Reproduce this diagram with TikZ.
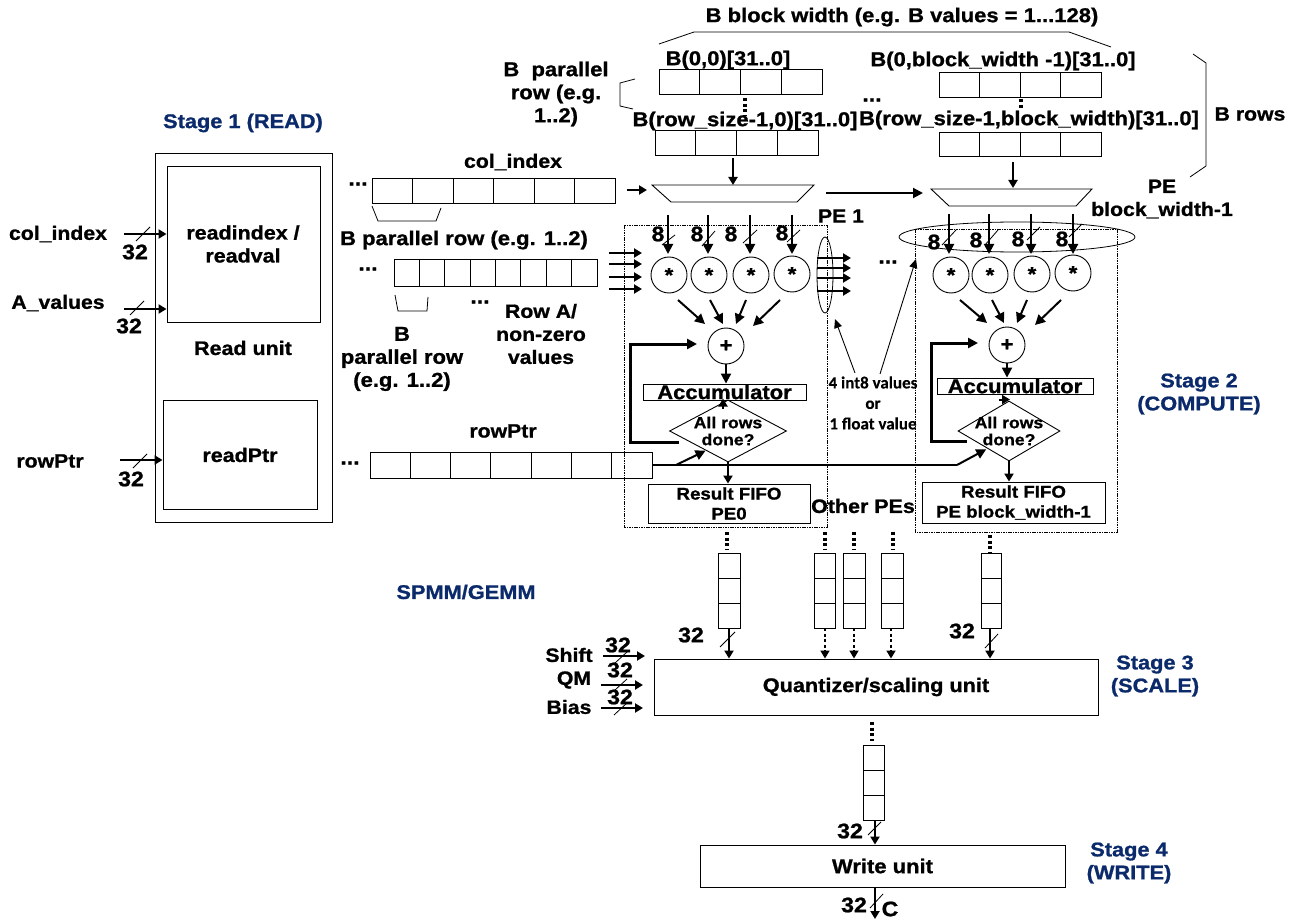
\documentclass[tikz,border=0pt]{standalone}
\usepackage{fontspec}
\setmainfont{Liberation Sans}[BoldFeatures={FakeBold=1,FakeStretch=1.1}]
\newfontfamily\calfam{Carlito}[BoldFeatures={FakeBold=0.2}]
\usetikzlibrary{arrows.meta,calc,shapes.geometric}
\definecolor{stagecol}{HTML}{0B2A6B}
\newcommand{\fz}[2]{\fontsize{#1}{#2}\selectfont\bfseries}
\tikzset{
  x=1pt,y=-1pt,
  thinln/.style={line width=0.8pt,draw=black},
  cellbox/.style={draw=black,line width=0.9pt,inner sep=0pt,fill=none},
  pebox/.style={draw=black,line width=0.8pt,dash pattern=on 1.6pt off 0.8pt},
  arr/.style={line width=2pt,-{Triangle[length=10pt,width=10pt]}},
  sarr/.style={line width=2pt,-{Triangle[length=8pt,width=9pt]}},
  thinarr/.style={line width=0.9pt,-{Triangle[length=9pt,width=8pt]}},
  fbarr/.style={line width=3pt,-{Triangle[length=10pt,width=10pt]}},
  dotsv/.style={line width=3.2pt,dash pattern=on 3pt off 2.6pt},
  dasharr/.style={line width=1.6pt,dash pattern=on 3pt off 2.5pt,-{Triangle[length=8pt,width=9pt]}},
  circ/.style={circle,draw=black,line width=0.9pt,minimum size=36pt,inner sep=0pt,font=\fz{20}{20}},
  tlab/.style={inner sep=0pt,align=center,font=\fz{19.5}{23}},
  stagelab/.style={inner sep=0pt,align=center,text=stagecol,font=\fz{19.8}{23}},
  siglab/.style={inner sep=0pt,align=center,font=\fz{19.3}{23}},
  siglong/.style={inner sep=0pt,align=center,font=\fz{20}{23}},
  numlab/.style={inner sep=0pt,font=\fz{21}{21}},
  dots/.style={inner sep=0pt,font=\fz{21}{21}},
  dmd/.style={diamond,draw=black,line width=0.9pt,aspect=1.89,inner sep=0pt,minimum width=117pt,minimum height=62pt},
  flow/.style={inner sep=0pt,align=center,font=\fz{16}{17}}
}
% rectangular box from corners: name x0 y0 x1 y1
\newcommand{\rbox}[6][]{\node[cellbox,#1,minimum width={(#4)-(#2)},minimum height={(#5)-(#3)}] (#6) at ({((#2)+(#4))/2},{((#3)+(#5))/2}) {};}
% box with text centred on it
\newcommand{\tbox}[7][]{\node[cellbox,minimum width={(#4)-(#2)},minimum height={(#5)-(#3)},label={[inner sep=0pt,align=center,font=#1]center:{#7}}] (#6) at ({((#2)+(#4))/2},{((#3)+(#5))/2}) {};}
% horizontal row of cells: name x0 y0 x1 y1 n
\newcommand{\hcells}[6]{\rbox{#2}{#3}{#4}{#5}{#1}\pgfmathsetmacro{\cw}{((#4)-(#2))/#6}\foreach \i in {2,...,#6}{\draw[cellbox] ({#2+(\i-1)*\cw},#3) -- ({#2+(\i-1)*\cw},#5);}}
% vertical fifo with three cells: name x0 y0 x1 y1
\newcommand{\vcells}[5]{\rbox{#2}{#3}{#4}{#5}{#1}\pgfmathsetmacro{\ch}{((#5)-(#3))/3}\foreach \i in {1,2}{\draw[cellbox] (#2,{#3+\i*\ch}) -- (#4,{#3+\i*\ch});}}
\newcommand{\tick}[4]{\draw[thinln] (#1,#2) -- (#3,#4);}
\begin{document}
\begin{tikzpicture}
\useasboundingbox (0,0) rectangle (1294,920);
\fill[white] (0,0) rectangle (1294,920);

% ---------- Stage 1
\node[stagelab] (st1) at (243,123) {Stage 1 (READ)};
\rbox{155}{153}{332}{522}{readunit}
\rbox{167}{166}{320}{322}{readidx}
\rbox{163}{400}{317}{509}{readptr}
\node[tlab] (readidxt) at (243,244) {readindex /\\readval};
\node[tlab] (readunitt) at (243,348) {Read unit};
\node[tlab] (readptrt) at (240,455) {readPtr};
\node[siglab] (sigcol) at (58,234) {col\_index};
\node[siglab] (sigval) at (58,303) {A\_values};
\node[siglab] (sigptr) at (50,461) {rowPtr};
\coordinate (incol) at (124,234);
\coordinate (inval) at (124,309);
\coordinate (inptr) at (120,460);
\draw[sarr] (incol) -- (incol -| readidx.west);
\draw[sarr] (inval) -- (inval -| readidx.west);
\draw[sarr] (inptr) -- (inptr -| readptr.west);
\tick{136}{241}{150}{227}
\tick{130}{315}{144}{301}
\tick{133}{468}{147}{454}
\node[numlab] (n32a) at (135,252) {32};
\node[numlab] (n32b) at (129,326) {32};
\node[numlab] (n32c) at (131,479) {32};

% ---------- col_index / row arrays
\node[siglab] (colt) at (513,162) {col\_index};
\hcells{colarr}{372}{178}{615}{203}{6}
\node[dots] (d1) at (358,184) {...};
\draw[thinln] (372,206) -- (378,221) -- (436,221) -- (441,208);
\node[siglong] (bpt) at (464,240) {B parallel row (e.g. 1..2)};
\hcells{rowarr}{394}{259}{597}{286}{8}
\node[dots] (d2) at (368,269) {...};
\draw[thinln] (395,295) -- (398,311) -- (427,311) -- (428,297);
\node[dots] (d3) at (480,302) {...};
\node[siglab] (rowat) at (541,334) {Row A/\\non-zero\\values};
\node[siglong] (bprt) at (402,359) {B\\parallel row\\(e.g. 1..2)};
\coordinate (colarrout) at (627,190);
\draw[sarr] (colarrout) -- (647,190);
\foreach \yy/\nn in {253/1,264/2,277/3,289/4}{
  \coordinate (rowout\nn) at (609,\yy);
  \draw[sarr] (rowout\nn) -- (642,\yy);
}
\node[siglab] (rowptrt) at (503,431) {rowPtr};
\hcells{ptrarr}{370}{452}{652}{478}{7}
\node[dots] (d4) at (350,463) {...};

% ---------- B blocks
\node[siglong] (bwidth) at (902,17) {B block width (e.g. B values = 1...128)};
\draw[thinln] (659,44) -- (694,32) -- (1069,32) -- (1111,47);
\node[siglong] (bpr2) at (556,94) {B\ \ parallel\\row (e.g.\\1..2)};
\draw[thinln] (635,79) -- (620,83) -- (620,106) -- (633,109);
\draw[thinln] (1193,54) -- (1206,63) -- (1206,166) -- (1190,177);
\node[siglab] (brows) at (1250,114) {B rows};
\hcells{bl1}{659}{69}{822}{94}{4}
\hcells{bl2}{655}{130}{818}{155}{4}
\node[siglong] (bl1t) at (728,60) {B(0,0)[31..0]};
\node[siglong] (bl2t) at (745,121) {B(row\_size-1,0)[31..0]};
\draw[dotsv] (745,98) -- (745,115);
\hcells{br1}{939}{72}{1101}{97}{4}
\hcells{br2}{939}{132}{1101}{156}{4}
\node[siglong] (br1t) at (1003,61) {B(0,block\_width -1)[31..0]};
\node[siglong] (br2t) at (1029,120) {B(row\_size-1,block\_width)[31..0]};
\draw[dotsv] (1021,99) -- (1021,110);
\node[dots] (d5) at (872,100) {...};
% multiplexers
\draw[cellbox] (652,185) -- (814,185) -- (797,202) -- (671,202) -- cycle;
\draw[cellbox] (931,189) -- (1092,189) -- (1076,206) -- (949,206) -- cycle;
\coordinate (muxl) at (733,185);
\coordinate (muxr) at (1013,188);
\coordinate (muxlr) at (826,193);
\coordinate (muxrl) at (923,193);
\draw[sarr] (muxl |- bl2.south) ++(0,3) -- (muxl);
\draw[sarr] (muxr |- br2.south) ++(0,6) -- (muxr);
\draw[arr] (muxlr) -- (muxrl);

% ---------- PE left
\draw[pebox] (624,225) rectangle (827,527);
\node[siglab] (pe1t) at (841,216) {PE 1};
\draw[thinln] (825,275) ellipse [x radius=8,y radius=38];
\foreach \xx/\nn/\yy in {669/1/275,709/2/275,751/3/275,792/4/274}{
  \node[circ] (ml\nn) at (\xx,\yy) {*};
}
\foreach \xx/\nn in {668/1,708/2,750/3,792/4}{
  \coordinate (il\nn) at (\xx,215);
  \draw[arr] (il\nn) -- (\xx,254);
}
\node[numlab] (n8a) at (658,234) {8};
\node[numlab] (n8b) at (697,234) {8};
\node[numlab] (n8c) at (731,234) {8};
\node[numlab] (n8d) at (782,233) {8};
\tick{662}{245}{675}{235}
\tick{702}{246}{715}{231}
\tick{743}{243}{757}{230}
\tick{787}{242}{800}{230}
\foreach \yy in {258,268,278,291}{\draw[sarr] (817,\yy) -- (851,\yy);}
\node[dots] (d6) at (888,262) {...};
\node[circ] (suml) at (726,346) {+};
\draw[arr] ($(ml1)+(9,25)$) -- ($(suml)+(-21,-22)$);
\draw[arr] ($(ml2)+(1,25)$) -- ($(suml)+(-3,-22)$);
\draw[arr] ($(ml3)+(-5,25)$) -- ($(suml)+(10,-22)$);
\draw[arr] ($(ml4)+(-12,26)$) -- ($(suml)+(27,-20)$);
\tbox[\fz{20}{20}]{643}{384}{806}{400}{accl}{Accumulator}
\draw[arr] (suml) -- (accl.north -| suml);
\node[dmd,label={[flow]center:All rows\\done?}] (dl) at (728,431) {};
\draw[sarr] ($(dl.north)+(-5,9)$) -- ($(dl.north)+(-5,-1)$);
\draw[fbarr] (dl.west |- 680,442) ++(10,0) -| (630,344) -- (697,344);
\tbox[\fz{17}{20}]{648}{484}{810}{523}{fifol}{Result FIFO\\PE0}
\draw[sarr] (dl.south) -- (fifol.north -| dl.south);
\node[inner sep=0pt,font=\fz{19.5}{20}] (otherpe) at (863,506) {Other PEs};

% ---------- PE right
\draw[pebox] (915,229) rectangle (1117,532);
\node[siglab] (pert) at (1162,199) {PE\\block\_width-1};
\draw[thinln] (1017,237) ellipse [x radius=118,y radius=15];
\foreach \xx/\nn/\yy in {951/1/275,990/2/275,1032/3/274,1073/4/273}{
  \node[circ] (mr\nn) at (\xx,\yy) {*};
}
\foreach \xx/\nn in {949/1,989/2,1031/3,1073/4}{
  \coordinate (ir\nn) at (\xx,214);
  \draw[arr] (ir\nn) -- (\xx,254);
}
\node[numlab] (n8e) at (934,242) {8};
\node[numlab] (n8f) at (976,240) {8};
\node[numlab] (n8g) at (1018,239) {8};
\node[numlab] (n8h) at (1062,239) {8};
\tick{942}{245}{956}{230}
\tick{985}{245}{998}{230}
\tick{1027}{240}{1040}{227}
\tick{1069}{237}{1082}{224}
\node[circ] (sumr) at (1007,345) {+};
\draw[arr] ($(mr1)+(9,25)$) -- ($(sumr)+(-20,-22)$);
\draw[arr] ($(mr2)+(2,25)$) -- ($(sumr)+(-3,-22)$);
\draw[arr] ($(mr3)+(-5,26)$) -- ($(sumr)+(10,-22)$);
\draw[arr] ($(mr4)+(-12,27)$) -- ($(sumr)+(28,-20)$);
\tbox[\fz{20}{20}]{937}{378}{1093}{394}{accr}{Accumulator}
\draw[arr] (sumr) -- (accr.north -| sumr);
\node[dmd,minimum width=102pt,minimum height=60pt,aspect=1.7,label={[flow]center:All rows\\done?}] (dr) at (1009,431) {};
\draw[sarr] ($(dr.north)+(-10,-1)$) -- ($(dr.north)+(1,-1)$);
\draw[fbarr] (967,441) -| (931,343) -- (978,343);
\tbox[\fz{17}{20}]{922}{482}{1105}{523}{fifor}{Result FIFO\\PE block\_width-1}
\draw[sarr] (dr.south) -- (fifor.north -| dr.south);

% rowPtr bus
\coordinate (busknee) at (957,465);
\coordinate (busbr) at (676,465);
\draw[line width=2.2pt] (ptrarr.east) -- (busknee);
\draw[arr] (busknee) -- ($(dr.south west)+(3,3)$);
\draw[arr] (busbr) -- ($(dl.south west)+(7,4)$);

% 4 int8 values
\node[inner sep=0pt,align=center,font=\calfam\fontsize{17}{20.5}\selectfont\bfseries] (int8) at (873,403) {4 int8 values\\or\\1 float value};
\draw[thinarr] (855,373) -- (835,319);
\draw[thinarr] (880,374) -- (916,259);

% ---------- FIFOs to quantizer
\tbox[\fz{19.7}{19.7}]{654}{659}{1098}{715}{quant}{Quantizer/scaling unit}
\vcells{fa}{718}{553}{740}{628}
\vcells{fb}{814}{553}{835}{628}
\vcells{fc}{843}{553}{865}{628}
\vcells{fd}{881}{553}{903}{628}
\vcells{fe}{981}{553}{1001}{628}
\foreach \xx/\yy/\zz in {727/532/550,825/532/550,854/532/550,893/532/550,990/535/553}{
  \draw[dotsv] (\xx,\yy) -- (\xx,\zz);
}
\coordinate (qa) at (729,628);
\coordinate (qe) at (990,628);
\draw[sarr] (qa) -- (qa |- quant.north);
\draw[sarr] (qe) -- (qe |- quant.north);
\tick{720}{647}{735}{632}
\tick{985}{648}{998}{634}
\foreach \xx/\nm in {825/b,854/c,891/d}{
  \coordinate (q\nm) at (\xx,628);
  \draw[dasharr] (q\nm) -- (q\nm |- quant.north);
}
\node[numlab] (n32d) at (691,635) {32};
\node[numlab] (n32e) at (962,631) {32};

% ---------- Quantizer inputs
\node[siglab] (shiftt) at (569,655) {Shift};
\node[siglab] (qmt) at (574,680) {QM};
\node[siglab] (biast) at (569,707) {Bias};
\coordinate (ins) at (603,656);
\coordinate (inq) at (601,685);
\coordinate (inb) at (601,708);
\draw[sarr] (ins) -- (645,656);
\draw[sarr] (inq) -- (643,685);
\draw[sarr] (inb) -- (643,708);
\node[numlab] (n32f) at (618,645) {32};
\node[numlab] (n32g) at (620,670) {32};
\node[numlab] (n32h) at (620,697) {32};
\tick{615}{663}{627}{652}
\tick{615}{690}{627}{679}
\tick{614}{715}{627}{703}

% ---------- lower fifo and write
\draw[dotsv] (872,722) -- (872,741);
\vcells{ff}{863}{745}{884}{820}
\tbox[\fz{20}{20}]{700}{845}{1065}{887}{wr}{Write unit}
\coordinate (qw) at (875,820);
\draw[sarr] (qw) -- (qw |- wr.north);
\tick{868}{835}{881}{822}
\node[numlab] (n32i) at (850,831) {32};
\coordinate (wo) at (875,888);
\coordinate (woe) at (875,919);
\draw[sarr] (wo) -- (woe);
\tick{870}{908}{883}{894}
\node[numlab] (n32j) at (854,905) {32};
\node[numlab] (ct) at (890,909) {C};

% ---------- stage labels
\node[stagelab] (st2) at (1199,394) {Stage 2\\(COMPUTE)};
\node[stagelab] (st3) at (1155,676) {Stage 3\\(SCALE)};
\node[stagelab] (st4) at (1129,863) {Stage 4\\(WRITE)};
\node[stagelab] (spmm) at (466,592) {SPMM/GEMM};
\end{tikzpicture}
\end{document}
